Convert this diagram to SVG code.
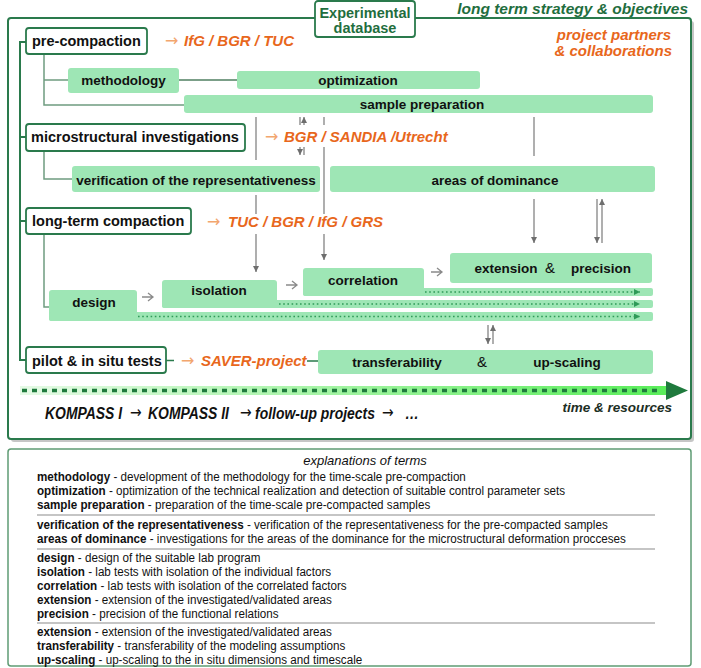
<svg xmlns="http://www.w3.org/2000/svg" width="701" height="668" viewBox="0 0 701 668">
<defs>
<style>
.wbox{fill:#fff;stroke:#2a7a4c;stroke-width:1.8}
.gbox{fill:#9ee6b5}
.t1{font-family:"Liberation Sans",Arial,sans-serif;font-weight:bold;font-size:14.5px;fill:#111}
.t2{font-family:"Liberation Sans",Arial,sans-serif;font-weight:bold;font-size:13.5px;fill:#111}
.or{font-family:"Liberation Sans",Arial,sans-serif;font-weight:bold;font-style:italic;font-size:15px;fill:#e8671c}
.ora{font-family:"DejaVu Sans",sans-serif;font-size:16px;fill:#f2a66e}
.kp{font-family:"Liberation Sans",Arial,sans-serif;font-weight:bold;font-style:italic;font-size:17px;fill:#111}
.ka{font-family:"DejaVu Sans",sans-serif;font-size:17px;fill:#111}
.gl{stroke:#7a7a7a;stroke-width:1.2;fill:none}
.tree{stroke:#2a7a4c;stroke-width:2;fill:none}
.sub{stroke:#6f9c80;stroke-width:1.5;fill:none}
.dot{stroke:#2f9a58;stroke-width:1.6;stroke-dasharray:1.6 2.6;fill:none}
.chev{stroke:#8a8a8a;stroke-width:1.3;fill:none}
.lg{font-family:"Liberation Sans",Arial,sans-serif;font-size:13.3px;fill:#111}
.lg .b{font-weight:bold}
.sep{stroke:#8c8c8c;stroke-width:1.2}
</style>
<marker id="ga" markerUnits="userSpaceOnUse" markerWidth="8" markerHeight="8" refX="6" refY="3" orient="auto">
<path d="M0,0 L6,3 L0,6 Z" fill="#6e6e6e"/>
</marker>
<marker id="gd" markerUnits="userSpaceOnUse" markerWidth="8" markerHeight="8" refX="6" refY="3" orient="auto">
<path d="M0,0 L6,3 L0,6 Z" fill="#2f9a58"/>
</marker>
<linearGradient id="band" x1="0" y1="0" x2="1" y2="0">
<stop offset="0" stop-color="#e6fae6"/>
<stop offset="1" stop-color="#58ee58"/>
</linearGradient>
</defs>

<!-- main frame -->
<rect x="11" y="21" width="683" height="421" rx="3" fill="#c6c6c6"/>
<rect x="8" y="18" width="683" height="421" rx="3" fill="#fff" stroke="#2a7a4c" stroke-width="2"/>

<g id="title">
<text x="688" y="14" text-anchor="end" style="font-family:'Liberation Sans',Arial,sans-serif;font-weight:bold;font-style:italic;font-size:15.5px;fill:#1f6e3e">long term strategy &amp; objectives</text>
</g>
<g id="partners">
<text x="671" y="40" text-anchor="end" class="or">project partners</text>
<text x="672" y="56" text-anchor="end" class="or">&amp; collaborations</text>
</g>

<g id="experimental-database">
<rect x="315" y="1" width="100" height="36" rx="3" class="wbox" stroke-width="2"/>
<text x="365" y="17.5" text-anchor="middle" style="font-family:'Liberation Sans',Arial,sans-serif;font-weight:bold;font-size:14.5px;fill:#1f6e3e">Experimental</text>
<text x="365" y="32.5" text-anchor="middle" style="font-family:'Liberation Sans',Arial,sans-serif;font-weight:bold;font-size:14.5px;fill:#1f6e3e">database</text>
</g>

<!-- connectors -->
<g id="connectors">
<path class="tree" d="M26,42 H20 V360 H26 M20,137 H26 M20,221 H26"/>
<path class="sub" d="M44,54 V105 H184 M44,80 H68 M44,151 V179 H72 M44,234 V307 H49"/>
<path d="M179,80 H237" stroke="#4f7f60" stroke-width="1.3"/>
<path d="M166,360.5 H174 M307,361 H318" stroke="#2a7a4c" stroke-width="1.5"/>
<path class="gl" d="M256,117 V160"/>
<path class="gl" d="M256,195 V214 M256,234 V272" marker-end="url(#ga)"/>
<path class="gl" d="M324,117 V125 M324,147 V214 M324,234 V260" marker-end="url(#ga)"/>
<path class="gl" d="M300,117 V125 M300,147 V155" marker-end="url(#ga)"/>
<path class="gl" d="M304,155 V147 M304,125 V117" marker-end="url(#ga)"/>
<path class="gl" d="M534,117 V156"/>
<path class="gl" d="M534,199 V243" marker-end="url(#ga)"/>
<path class="gl" d="M597,199 V243" marker-end="url(#ga)"/>
<path class="gl" d="M602,243 V199" marker-end="url(#ga)"/>
<path class="gl" d="M488,325 V344" marker-end="url(#ga)"/>
<path class="gl" d="M493,344 V325" marker-end="url(#ga)"/>
<path class="chev" d="M142,297 H153 M148,293 L153,297 L148,301"/>
<path class="chev" d="M286,285 H297 M292,281 L297,285 L292,289"/>
<path class="chev" d="M431,272 H442 M437,268 L442,272 L437,276"/>
</g>

<g id="pre-compaction">
<rect x="26" y="28" width="121" height="26" rx="3" class="wbox"/>
<text x="32" y="46" class="t1">pre-compaction</text>
<text x="165" y="46" class="ora">→</text>
<text x="184" y="46" class="or">IfG / BGR / TUC</text>
</g>
<g id="methodology">
<rect x="68" y="68" width="111" height="25" rx="3" class="gbox"/>
<text x="123.5" y="85" text-anchor="middle" class="t2">methodology</text>
</g>
<g id="optimization">
<rect x="237" y="71" width="243" height="18" rx="3" class="gbox"/>
<text x="358" y="85" text-anchor="middle" class="t2">optimization</text>
</g>
<g id="sample-preparation">
<rect x="184" y="95" width="469" height="18" rx="3" class="gbox"/>
<text x="422" y="109" text-anchor="middle" class="t2">sample preparation</text>
</g>

<g id="microstructural">
<rect x="26" y="124" width="219" height="27" rx="3" class="wbox"/>
<text x="31" y="142" class="t1">microstructural investigations</text>
<text x="265" y="142" class="ora">→</text>
<text x="284" y="142" class="or">BGR / SANDIA /Utrecht</text>
</g>
<g id="verification">
<rect x="72" y="166" width="248" height="26" rx="3" class="gbox"/>
<text x="196" y="185" text-anchor="middle" class="t2">verification of the representativeness</text>
</g>
<g id="areas-of-dominance">
<rect x="330" y="166" width="325" height="26" rx="3" class="gbox"/>
<text x="495" y="185" text-anchor="middle" class="t2">areas of dominance</text>
</g>

<g id="long-term">
<rect x="26" y="208" width="165" height="26" rx="3" class="wbox"/>
<text x="32" y="226" class="t1">long-term compaction</text>
<text x="207" y="227" class="ora">→</text>
<text x="228" y="227" class="or">TUC / BGR / IfG / GRS</text>
</g>
<g id="design">
<rect x="49" y="290" width="88" height="31" rx="3" class="gbox"/>
<rect x="49" y="312" width="604" height="9" rx="2" class="gbox"/>
<text x="94" y="307" text-anchor="middle" class="t2">design</text>
<path class="dot" d="M138,316.5 H640" marker-end="url(#gd)"/>
</g>
<g id="isolation">
<rect x="162" y="280" width="115" height="28" rx="3" class="gbox"/>
<rect x="162" y="300" width="491" height="8" rx="2" class="gbox"/>
<text x="219" y="295" text-anchor="middle" class="t2">isolation</text>
<path class="dot" d="M279,304 H640" marker-end="url(#gd)"/>
</g>
<g id="correlation">
<rect x="303" y="268" width="121" height="28" rx="3" class="gbox"/>
<rect x="303" y="288" width="350" height="8" rx="2" class="gbox"/>
<text x="363" y="285" text-anchor="middle" class="t2">correlation</text>
<path class="dot" d="M425,292 H640" marker-end="url(#gd)"/>
</g>
<g id="extension-precision">
<rect x="450" y="253" width="202" height="30" rx="3" class="gbox"/>
<text x="506" y="273" text-anchor="middle" class="t2">extension</text>
<text x="550" y="273" text-anchor="middle" class="t2" style="font-weight:normal;font-size:15px">&amp;</text>
<text x="601" y="273" text-anchor="middle" class="t2">precision</text>
</g>

<g id="pilot">
<rect x="26" y="347" width="140" height="26" rx="3" class="wbox"/>
<text x="32" y="366" class="t1">pilot &amp; in situ tests</text>
<text x="181" y="366" class="ora">→</text>
<text x="201" y="366" class="or">SAVER-project</text>
</g>
<g id="transferability-upscaling">
<rect x="318" y="350" width="335" height="24" rx="3" class="gbox"/>
<text x="397" y="367" text-anchor="middle" class="t2">transferability</text>
<text x="482" y="367" text-anchor="middle" class="t2" style="font-weight:normal;font-size:15px">&amp;</text>
<text x="567" y="367" text-anchor="middle" class="t2">up-scaling</text>
</g>

<g id="time-arrow">
<rect x="20" y="386" width="652" height="9" fill="url(#band)"/>
<path d="M22,390.5 H662" stroke="#1f7a3d" stroke-width="3.5" stroke-dasharray="5 5"/>
<polygon points="666,381 688,390.5 666,400" fill="#1f7a3d"/>
<text x="672" y="412" text-anchor="end" style="font-family:'Liberation Sans',Arial,sans-serif;font-weight:bold;font-style:italic;font-size:13.5px;fill:#1c2e24">time &amp; resources</text>
<g transform="scale(0.82,1)">
<text x="54.9" y="419" class="kp">KOMPASS I</text>
<text x="158.5" y="418" class="ka">→</text>
<text x="180.5" y="419" class="kp">KOMPASS II</text>
<text x="292.7" y="418" class="ka">→</text>
<text x="311" y="419" class="kp">follow-up projects</text>
<text x="465.9" y="418" class="ka">→</text>
<text x="493.9" y="419" class="kp">…</text>
</g>
</g>

<!-- legend -->
<g id="legend">
<rect x="8" y="449" width="683" height="217" rx="3" fill="#fff" stroke="#5f9c74" stroke-width="1.5"/>
<text x="365" y="465" text-anchor="middle" style="font-family:'Liberation Sans',Arial,sans-serif;font-style:italic;font-size:13px;fill:#111">explanations of terms</text>
<line x1="37" y1="515" x2="655" y2="515" class="sep"/>
<line x1="37" y1="549" x2="655" y2="549" class="sep"/>
<line x1="37" y1="623" x2="655" y2="623" class="sep"/>
<g transform="translate(37,0) scale(0.877,1)" class="lg">
<text x="0" y="481"><tspan class="b">methodology</tspan> - development of the methodology for the time-scale pre-compaction</text>
<text x="0" y="495"><tspan class="b">optimization</tspan> - optimization of the technical realization and detection of suitable control parameter sets</text>
<text x="0" y="509"><tspan class="b">sample preparation</tspan> - preparation of the time-scale pre-compacted samples</text>
<text x="0" y="529"><tspan class="b">verification of the representativeness</tspan> - verification of the representativeness for the pre-compacted samples</text>
<text x="0" y="543"><tspan class="b">areas of dominance</tspan> - investigations for the areas of the dominance for the microstructural deformation procceses</text>
<text x="0" y="562"><tspan class="b">design</tspan> - design of the suitable lab program</text>
<text x="0" y="576"><tspan class="b">isolation</tspan> - lab tests with isolation of the individual factors</text>
<text x="0" y="590"><tspan class="b">correlation</tspan> - lab tests with isolation of the correlated factors</text>
<text x="0" y="604"><tspan class="b">extension</tspan> - extension of the investigated/validated areas</text>
<text x="0" y="618"><tspan class="b">precision</tspan> - precision of the functional relations</text>
<text x="0" y="636"><tspan class="b">extension</tspan> - extension of the investigated/validated areas</text>
<text x="0" y="650"><tspan class="b">transferability</tspan> - transferability of the modeling assumptions</text>
<text x="0" y="664"><tspan class="b">up-scaling</tspan> - up-scaling to the in situ dimensions and timescale</text>
</g>
</g>
</svg>
